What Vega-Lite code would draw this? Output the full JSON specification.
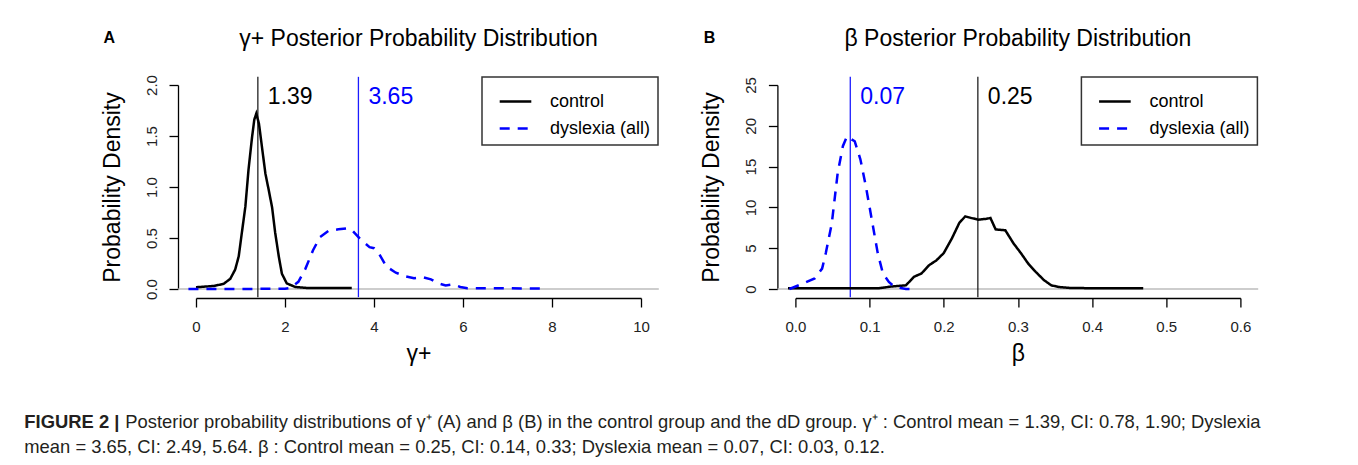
{
  "$schema": "https://vega.github.io/schema/vega-lite/v6.json",
  "background": "white",
  "padding": {"left": 24, "top": 27, "right": 5, "bottom": 5},
  "config": {
    "font": "Liberation Sans",
    "view": {"stroke": null},
    "axis": {"grid": false, "domainColor": "black", "domainWidth": 1.3, "tickColor": "black", "tickWidth": 1.3, "tickSize": 9, "labelFont": "Liberation Sans", "labelFontSize": 15, "labelColor": "#222", "labelFlush": false, "labelOverlap": false, "titleFont": "Liberation Sans", "titleFontSize": 23, "titleFontWeight": "normal", "titleColor": "black"},
    "axisX": {"offset": 9, "labelPadding": 12, "titlePadding": 8},
    "axisY": {"offset": 18, "labelAngle": 270, "labelAlign": "center", "labelBaseline": "bottom", "labelPadding": 10, "titlePadding": 20},
    "legend": {"strokeWidth": 1.5}
  },
  "datasets": {
    "curvesA": [
      {"x": 0.0, "density": 0.017, "group": "control"},
      {"x": 0.4, "density": 0.03, "group": "control"},
      {"x": 0.62, "density": 0.05, "group": "control"},
      {"x": 0.77, "density": 0.1, "group": "control"},
      {"x": 0.88, "density": 0.19, "group": "control"},
      {"x": 0.96, "density": 0.32, "group": "control"},
      {"x": 1.03, "density": 0.55, "group": "control"},
      {"x": 1.11, "density": 0.81, "group": "control"},
      {"x": 1.18, "density": 1.17, "group": "control"},
      {"x": 1.26, "density": 1.49, "group": "control"},
      {"x": 1.31, "density": 1.66, "group": "control"},
      {"x": 1.355, "density": 1.72, "group": "control"},
      {"x": 1.415, "density": 1.62, "group": "control"},
      {"x": 1.48, "density": 1.4, "group": "control"},
      {"x": 1.56, "density": 1.13, "group": "control"},
      {"x": 1.63, "density": 0.98, "group": "control"},
      {"x": 1.71, "density": 0.8, "group": "control"},
      {"x": 1.78, "density": 0.55, "group": "control"},
      {"x": 1.86, "density": 0.32, "group": "control"},
      {"x": 1.93, "density": 0.15, "group": "control"},
      {"x": 2.04, "density": 0.055, "group": "control"},
      {"x": 2.23, "density": 0.02, "group": "control"},
      {"x": 2.5, "density": 0.01, "group": "control"},
      {"x": 3.5, "density": 0.01, "group": "control"},
      {"x": -0.17, "density": 0.0, "group": "dyslexia (all)"},
      {"x": 1.0, "density": 0.0, "group": "dyslexia (all)"},
      {"x": 2.0, "density": 0.003, "group": "dyslexia (all)"},
      {"x": 2.12, "density": 0.01, "group": "dyslexia (all)"},
      {"x": 2.3, "density": 0.07, "group": "dyslexia (all)"},
      {"x": 2.46, "density": 0.2, "group": "dyslexia (all)"},
      {"x": 2.63, "density": 0.38, "group": "dyslexia (all)"},
      {"x": 2.79, "density": 0.51, "group": "dyslexia (all)"},
      {"x": 2.98, "density": 0.57, "group": "dyslexia (all)"},
      {"x": 3.2, "density": 0.585, "group": "dyslexia (all)"},
      {"x": 3.39, "density": 0.595, "group": "dyslexia (all)"},
      {"x": 3.5, "density": 0.58, "group": "dyslexia (all)"},
      {"x": 3.69, "density": 0.49, "group": "dyslexia (all)"},
      {"x": 3.9, "density": 0.41, "group": "dyslexia (all)"},
      {"x": 4.0, "density": 0.4, "group": "dyslexia (all)"},
      {"x": 4.12, "density": 0.34, "group": "dyslexia (all)"},
      {"x": 4.28, "density": 0.22, "group": "dyslexia (all)"},
      {"x": 4.49, "density": 0.16, "group": "dyslexia (all)"},
      {"x": 4.7, "density": 0.125, "group": "dyslexia (all)"},
      {"x": 4.9, "density": 0.105, "group": "dyslexia (all)"},
      {"x": 5.1, "density": 0.115, "group": "dyslexia (all)"},
      {"x": 5.28, "density": 0.095, "group": "dyslexia (all)"},
      {"x": 5.45, "density": 0.055, "group": "dyslexia (all)"},
      {"x": 5.61, "density": 0.035, "group": "dyslexia (all)"},
      {"x": 5.77, "density": 0.045, "group": "dyslexia (all)"},
      {"x": 5.94, "density": 0.02, "group": "dyslexia (all)"},
      {"x": 6.1, "density": 0.008, "group": "dyslexia (all)"},
      {"x": 7.9, "density": 0.005, "group": "dyslexia (all)"}
    ],
    "curvesB": [
      {"x": -0.01, "density": 0.08, "group": "control"},
      {"x": 0.113, "density": 0.1, "group": "control"},
      {"x": 0.129, "density": 0.3, "group": "control"},
      {"x": 0.149, "density": 0.45, "group": "control"},
      {"x": 0.16, "density": 1.5, "group": "control"},
      {"x": 0.17, "density": 1.9, "group": "control"},
      {"x": 0.18, "density": 2.9, "group": "control"},
      {"x": 0.19, "density": 3.5, "group": "control"},
      {"x": 0.2, "density": 4.4, "group": "control"},
      {"x": 0.211, "density": 6.2, "group": "control"},
      {"x": 0.221, "density": 8.1, "group": "control"},
      {"x": 0.229, "density": 8.9, "group": "control"},
      {"x": 0.237, "density": 8.7, "group": "control"},
      {"x": 0.247, "density": 8.5, "group": "control"},
      {"x": 0.2575, "density": 8.6, "group": "control"},
      {"x": 0.263, "density": 8.7, "group": "control"},
      {"x": 0.27, "density": 7.3, "group": "control"},
      {"x": 0.283, "density": 7.2, "group": "control"},
      {"x": 0.294, "density": 5.6, "group": "control"},
      {"x": 0.304, "density": 4.4, "group": "control"},
      {"x": 0.314, "density": 3.1, "group": "control"},
      {"x": 0.324, "density": 2.1, "group": "control"},
      {"x": 0.335, "density": 1.1, "group": "control"},
      {"x": 0.345, "density": 0.45, "group": "control"},
      {"x": 0.355, "density": 0.25, "group": "control"},
      {"x": 0.371, "density": 0.12, "group": "control"},
      {"x": 0.427, "density": 0.08, "group": "control"},
      {"x": 0.469, "density": 0.08, "group": "control"},
      {"x": -0.008, "density": 0.0, "group": "dyslexia (all)"},
      {"x": 0.01, "density": 0.66, "group": "dyslexia (all)"},
      {"x": 0.026, "density": 1.3, "group": "dyslexia (all)"},
      {"x": 0.036, "density": 2.5, "group": "dyslexia (all)"},
      {"x": 0.041, "density": 4.4, "group": "dyslexia (all)"},
      {"x": 0.049, "density": 8.0, "group": "dyslexia (all)"},
      {"x": 0.057, "density": 14.2, "group": "dyslexia (all)"},
      {"x": 0.064, "density": 17.5, "group": "dyslexia (all)"},
      {"x": 0.0695, "density": 18.7, "group": "dyslexia (all)"},
      {"x": 0.0747, "density": 18.4, "group": "dyslexia (all)"},
      {"x": 0.08, "density": 18.1, "group": "dyslexia (all)"},
      {"x": 0.0876, "density": 15.9, "group": "dyslexia (all)"},
      {"x": 0.095, "density": 12.6, "group": "dyslexia (all)"},
      {"x": 0.103, "density": 8.5, "group": "dyslexia (all)"},
      {"x": 0.111, "density": 4.4, "group": "dyslexia (all)"},
      {"x": 0.118, "density": 1.9, "group": "dyslexia (all)"},
      {"x": 0.126, "density": 0.86, "group": "dyslexia (all)"},
      {"x": 0.134, "density": 0.25, "group": "dyslexia (all)"},
      {"x": 0.149, "density": 0.0, "group": "dyslexia (all)"},
      {"x": 0.162, "density": 0.0, "group": "dyslexia (all)"}
    ],
    "meansA": [
      {"group": "control", "mean": 1.39, "label": "1.39"},
      {"group": "dyslexia (all)", "mean": 3.65, "label": "3.65"}
    ],
    "meansB": [
      {"group": "control", "mean": 0.246, "label": "0.25"},
      {"group": "dyslexia (all)", "mean": 0.074, "label": "0.07"}
    ],
    "one": [{}]
  },
  "title": {
    "text": "mean = 3.65, CI: 2.49, 5.64. β : Control mean = 0.25, CI: 0.14, 0.33; Dyslexia mean = 0.07, CI: 0.03, 0.12.",
    "orient": "bottom", "anchor": "start", "font": "Liberation Sans", "fontSize": 18.4, "fontWeight": "normal",
    "color": "#231f20", "baseline": "top", "offset": 6.6
  },
  "vconcat": [
    {
      "title": {
        "text": "Posterior probability distributions of γ⁺ (A) and β (B) in the control group and the dD group. γ⁺ : Control mean = 1.39, CI: 0.78, 1.90; Dyslexia",
        "orient": "bottom", "anchor": "start", "font": "Liberation Sans", "fontSize": 18.4, "fontWeight": "normal",
        "color": "#231f20", "baseline": "top", "offset": -18.4, "dx": 101
      },
      "vconcat": [
        {
          "title": {
            "text": "FIGURE 2 |",
            "orient": "bottom", "anchor": "start", "font": "Liberation Sans", "fontSize": 18.4, "fontWeight": "bold",
            "color": "#231f20", "baseline": "top", "offset": 48, "dx": -76.7
          },
          "spacing": 39.4,
          "resolve": {
            "scale": {"color": "independent", "strokeDash": "independent"},
            "legend": {"color": "independent", "strokeDash": "independent"}
          },
          "hconcat": [
            {
              "width": 445,
              "height": 204,
              "layer": [
                {
                  "data": {"name": "one"},
                  "mark": {"type": "rule", "color": "#bdbdbd", "strokeWidth": 1.5},
                  "encoding": {
                    "x": {"datum": -0.4, "type": "quantitative"},
                    "x2": {"datum": 10.4},
                    "y": {"datum": 0, "type": "quantitative"}
                  }
                },
                {
                  "data": {"name": "meansA"},
                  "transform": [{"filter": "datum.group === 'control'"}],
                  "mark": {"type": "rule", "strokeWidth": 1.3, "color": "#222"},
                  "encoding": {
                    "x": {"field": "mean", "type": "quantitative"},
                    "y": {"datum": -0.08, "type": "quantitative"},
                    "y2": {"datum": 2.08}
                  }
                },
                {
                  "data": {"name": "meansA"},
                  "transform": [{"filter": "datum.group !== 'control'"}],
                  "mark": {"type": "rule", "strokeWidth": 1.3, "color": "#1c1cff"},
                  "encoding": {
                    "x": {"field": "mean", "type": "quantitative"},
                    "y": {"datum": -0.08, "type": "quantitative"},
                    "y2": {"datum": 2.08}
                  }
                },
                {
                  "data": {"name": "curvesA"},
                  "mark": {"type": "line", "strokeWidth": 2.5},
                  "encoding": {
                    "x": {"field": "x", "type": "quantitative", "scale": {"domain": [0, 10], "nice": false, "zero": false},
                      "axis": {"title": "γ+", "values": [0, 2, 4, 6, 8, 10]}},
                    "y": {"field": "density", "type": "quantitative", "scale": {"domain": [0, 2], "nice": false, "zero": false},
                      "axis": {"title": "Probability Density", "values": [0, 0.5, 1, 1.5, 2], "format": ".1f"}},
                    "color": {"field": "group", "type": "nominal",
                      "scale": {"domain": ["control", "dyslexia (all)"], "range": ["black", "blue"]},
                      "legend": {"orient": "none", "legendX": 286, "legendY": -8, "title": null, "symbolType": "stroke", "symbolSize": 1000, "symbolStrokeWidth": 2.5, "labelFontSize": 18, "labelFont": "Liberation Sans", "labelColor": "black", "strokeColor": "#333", "fillColor": "white", "padding": 7, "rowPadding": -13, "labelOffset": 17, "symbolOffset": 9}},
                    "strokeDash": {"field": "group", "type": "nominal",
                      "scale": {"domain": ["control", "dyslexia (all)"], "range": [[1, 0], [10, 8]]},
                      "legend": {"orient": "none", "legendX": 286, "legendY": -8, "title": null, "symbolType": "stroke", "symbolSize": 1000, "symbolStrokeWidth": 2.5, "labelFontSize": 18, "labelFont": "Liberation Sans", "labelColor": "black", "strokeColor": "#333", "fillColor": "white", "padding": 7, "rowPadding": -13, "labelOffset": 17, "symbolOffset": 9}}
                  }
                },
                {
                  "data": {"name": "meansA"},
                  "transform": [{"filter": "datum.group === 'control'"}],
                  "mark": {"type": "text", "align": "left", "baseline": "middle", "dx": 10, "fontSize": 23, "font": "Liberation Sans", "color": "black"},
                  "encoding": {
                    "x": {"field": "mean", "type": "quantitative"},
                    "y": {"datum": 1.88, "type": "quantitative"},
                    "text": {"field": "label"}
                  }
                },
                {
                  "data": {"name": "meansA"},
                  "transform": [{"filter": "datum.group !== 'control'"}],
                  "mark": {"type": "text", "align": "left", "baseline": "middle", "dx": 10, "fontSize": 23, "font": "Liberation Sans", "color": "blue"},
                  "encoding": {
                    "x": {"field": "mean", "type": "quantitative"},
                    "y": {"datum": 1.88, "type": "quantitative"},
                    "text": {"field": "label"}
                  }
                },
                {
                  "data": {"name": "one"},
                  "mark": {"type": "text", "align": "center", "baseline": "alphabetic", "fontSize": 23, "font": "Liberation Sans", "color": "black"},
                  "encoding": {
                    "x": {"datum": 5, "type": "quantitative"},
                    "y": {"datum": 2.382, "type": "quantitative"},
                    "text": {"value": "γ+ Posterior Probability Distribution"}
                  }
                },
                {
                  "data": {"name": "one"},
                  "mark": {"type": "text", "align": "left", "baseline": "alphabetic", "fontSize": 16, "fontWeight": "bold", "font": "Liberation Sans", "color": "black"},
                  "encoding": {
                    "x": {"datum": -2.08, "type": "quantitative"},
                    "y": {"datum": 2.41, "type": "quantitative"},
                    "text": {"value": "A"}
                  }
                }
              ]
            },
            {
              "width": 445,
              "height": 204,
              "layer": [
                {
                  "data": {"name": "one"},
                  "mark": {"type": "rule", "color": "#bdbdbd", "strokeWidth": 1.5},
                  "encoding": {
                    "x": {"datum": -0.024, "type": "quantitative"},
                    "x2": {"datum": 0.624},
                    "y": {"datum": 0, "type": "quantitative"}
                  }
                },
                {
                  "data": {"name": "meansB"},
                  "transform": [{"filter": "datum.group === 'control'"}],
                  "mark": {"type": "rule", "strokeWidth": 1.3, "color": "#222"},
                  "encoding": {
                    "x": {"field": "mean", "type": "quantitative"},
                    "y": {"datum": -1, "type": "quantitative"},
                    "y2": {"datum": 26}
                  }
                },
                {
                  "data": {"name": "meansB"},
                  "transform": [{"filter": "datum.group !== 'control'"}],
                  "mark": {"type": "rule", "strokeWidth": 1.3, "color": "#1c1cff"},
                  "encoding": {
                    "x": {"field": "mean", "type": "quantitative"},
                    "y": {"datum": -1, "type": "quantitative"},
                    "y2": {"datum": 26}
                  }
                },
                {
                  "data": {"name": "curvesB"},
                  "mark": {"type": "line", "strokeWidth": 2.5},
                  "encoding": {
                    "x": {"field": "x", "type": "quantitative", "scale": {"domain": [0, 0.6], "nice": false, "zero": false},
                      "axis": {"title": "β", "values": [0, 0.1, 0.2, 0.3, 0.4, 0.5, 0.6], "format": ".1f"}},
                    "y": {"field": "density", "type": "quantitative", "scale": {"domain": [0, 25], "nice": false, "zero": false},
                      "axis": {"title": "Probability Density", "values": [0, 5, 10, 15, 20, 25], "format": "d"}},
                    "color": {"field": "group", "type": "nominal",
                      "scale": {"domain": ["control", "dyslexia (all)"], "range": ["black", "blue"]},
                      "legend": {"orient": "none", "legendX": 286, "legendY": -8, "title": null, "symbolType": "stroke", "symbolSize": 1000, "symbolStrokeWidth": 2.5, "labelFontSize": 18, "labelFont": "Liberation Sans", "labelColor": "black", "strokeColor": "#333", "fillColor": "white", "padding": 7, "rowPadding": -13, "labelOffset": 17, "symbolOffset": 9}},
                    "strokeDash": {"field": "group", "type": "nominal",
                      "scale": {"domain": ["control", "dyslexia (all)"], "range": [[1, 0], [10, 8]]},
                      "legend": {"orient": "none", "legendX": 286, "legendY": -8, "title": null, "symbolType": "stroke", "symbolSize": 1000, "symbolStrokeWidth": 2.5, "labelFontSize": 18, "labelFont": "Liberation Sans", "labelColor": "black", "strokeColor": "#333", "fillColor": "white", "padding": 7, "rowPadding": -13, "labelOffset": 17, "symbolOffset": 9}}
                  }
                },
                {
                  "data": {"name": "meansB"},
                  "transform": [{"filter": "datum.group === 'control'"}],
                  "mark": {"type": "text", "align": "left", "baseline": "middle", "dx": 10, "fontSize": 23, "font": "Liberation Sans", "color": "black"},
                  "encoding": {
                    "x": {"field": "mean", "type": "quantitative"},
                    "y": {"datum": 23.5, "type": "quantitative"},
                    "text": {"field": "label"}
                  }
                },
                {
                  "data": {"name": "meansB"},
                  "transform": [{"filter": "datum.group !== 'control'"}],
                  "mark": {"type": "text", "align": "left", "baseline": "middle", "dx": 10, "fontSize": 23, "font": "Liberation Sans", "color": "blue"},
                  "encoding": {
                    "x": {"field": "mean", "type": "quantitative"},
                    "y": {"datum": 23.5, "type": "quantitative"},
                    "text": {"field": "label"}
                  }
                },
                {
                  "data": {"name": "one"},
                  "mark": {"type": "text", "align": "center", "baseline": "alphabetic", "fontSize": 23, "font": "Liberation Sans", "color": "black"},
                  "encoding": {
                    "x": {"datum": 0.3, "type": "quantitative"},
                    "y": {"datum": 29.78, "type": "quantitative"},
                    "text": {"value": "β Posterior Probability Distribution"}
                  }
                },
                {
                  "data": {"name": "one"},
                  "mark": {"type": "text", "align": "left", "baseline": "alphabetic", "fontSize": 16, "fontWeight": "bold", "font": "Liberation Sans", "color": "black"},
                  "encoding": {
                    "x": {"datum": -0.1237, "type": "quantitative"},
                    "y": {"datum": 30.1, "type": "quantitative"},
                    "text": {"value": "B"}
                  }
                }
              ]
            }
          ]
        }
      ]
    }
  ]
}
